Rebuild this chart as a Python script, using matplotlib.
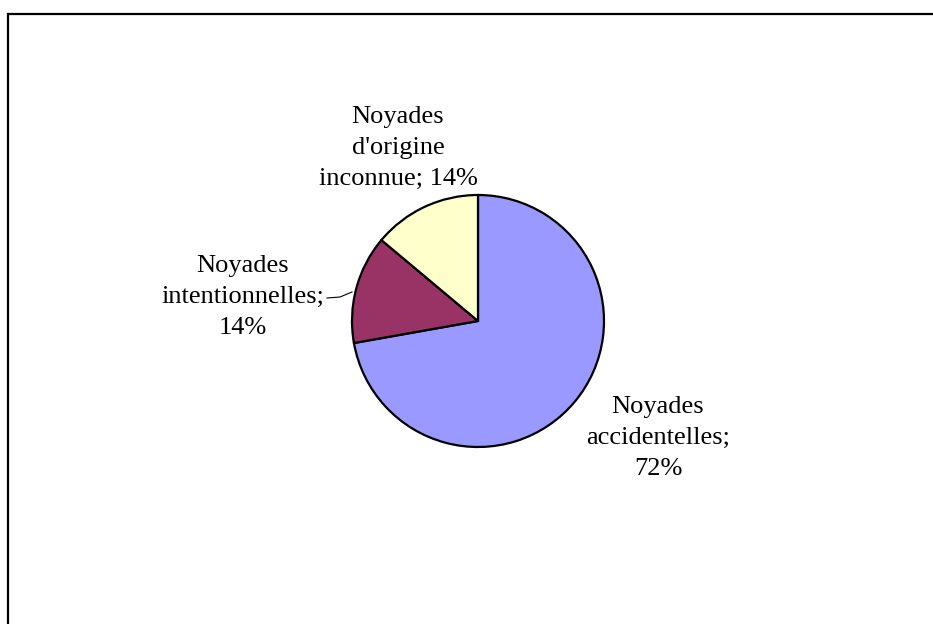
import matplotlib.pyplot as plt
from matplotlib.patches import Rectangle

# Data
categories = ['Noyades\naccidentelles;\n72%',
              'Noyades\nintentionnelles;\n14%',
              "Noyades\nd'origine\ninconnue; 14%"]
shares = [72.2, 13.9, 13.9]
colors = ['#9999FF', '#993366', '#FFFFCC']

W, H = 933, 624


def main():
    plt.rcParams['font.family'] = ['Liberation Serif', 'DejaVu Serif']
    fig = plt.figure(figsize=(W / 100, H / 100), dpi=100)
    ax = fig.add_axes([0, 0, 1, 1])

    # pie in pixel coords (y up)
    cx, cy, r = 478, H - 321, 126
    ax.pie(shares, colors=colors, startangle=90, counterclock=False,
           center=(cx, cy), radius=r,
           wedgeprops=dict(edgecolor='black', linewidth=1.6))

    # labels
    style = dict(ha='center', va='center', fontsize=19, linespacing=1.55)
    ax.text(658, H - 438, categories[0], **style)
    ax.text(243, H - 297, categories[1], **style)
    ax.text(398, H - 148, categories[2], **style)
    ax.plot([327, 340, 352], [H - 298, H - 297, H - 292], color='black', lw=0.8)

    # chart frame
    ax.add_patch(Rectangle((8, -10), W + 10, H - 14 + 10, fill=False,
                           edgecolor='black', linewidth=1.6))

    ax.set_xlim(0, W)
    ax.set_ylim(0, H)
    ax.set_aspect('auto')
    ax.axis('off')
    fig.savefig('out.png', dpi=100)


if __name__ == '__main__':
    main()
